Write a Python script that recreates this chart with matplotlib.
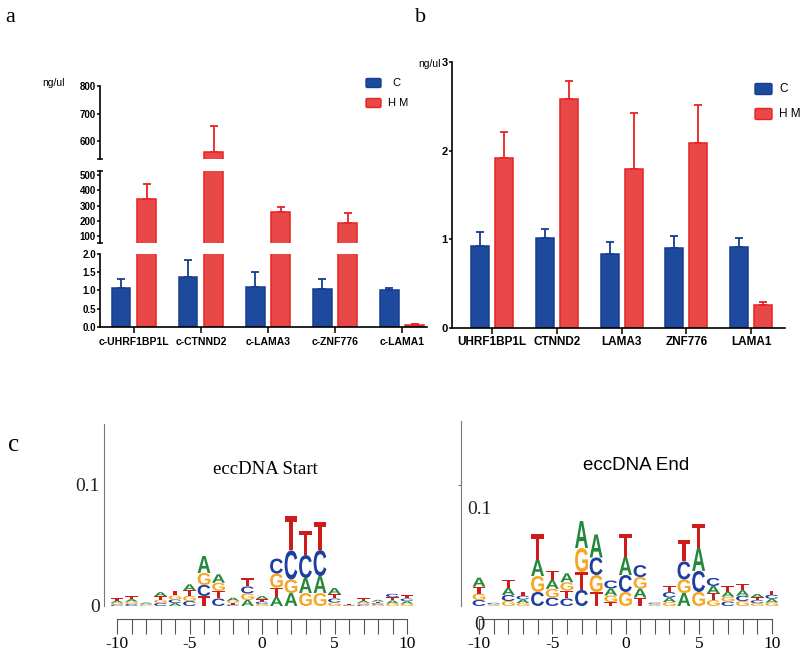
import numpy as np
import matplotlib
matplotlib.use('Agg')
import matplotlib.pyplot as plt
from matplotlib.textpath import TextPath
from matplotlib.patches import PathPatch, FancyBboxPatch
from matplotlib.font_manager import FontProperties
from matplotlib.transforms import Affine2D

# ---------------- data ----------------
genes_a = ['c-UHRF1BP1L', 'c-CTNND2', 'c-LAMA3', 'c-ZNF776', 'c-LAMA1']
a_C = [1.07, 1.37, 1.10, 1.05, 1.02]
a_C_err = [0.25, 0.47, 0.40, 0.27, 0.04]
a_HM = [345, 560, 260, 188, 0.05]
a_HM_err = [95, 95, 33, 62, 0.02]

genes_b = ['UHRF1BP1L', 'CTNND2', 'LAMA3', 'ZNF776', 'LAMA1']
b_C = [0.92, 1.02, 0.83, 0.90, 0.91]
b_C_err = [0.16, 0.10, 0.14, 0.14, 0.10]
b_HM = [1.92, 2.58, 1.79, 2.09, 0.26]
b_HM_err = [0.29, 0.21, 0.64, 0.42, 0.03]

positions = list(range(-10, 11))
LOGO_UNIT = 1e-3  # letter heights below are given in thousandths
start_A = [1.7, 2.1, 1.1, 3.3, 2.5, 5.0, 14.0, 7.0, 2.5, 5.0, 2.5, 7.4, 10.7, 12.4, 14.0, 5.0, 0.4, 1.7, 1.5, 2.5, 2.1]
start_C = [1.2, 1.7, 0.6, 2.5, 2.9, 4.1, 9.1, 6.2, 1.2, 5.8, 1.9, 12.4, 24.0, 19.0, 21.5, 3.3, 0.4, 1.2, 1.2, 2.9, 2.2]
start_G = [1.5, 1.9, 0.8, 2.7, 3.3, 4.3, 9.9, 6.6, 1.7, 5.4, 1.7, 11.6, 11.2, 10.7, 10.7, 2.9, 0.4, 1.5, 1.1, 2.1, 1.9]
start_T = [2.1, 2.5, 0.4, 2.9, 4.1, 4.5, 8.3, 6.4, 1.4, 6.6, 2.1, 7.8, 28.1, 19.8, 23.1, 3.7, 0.4, 2.1, 1.3, 2.6, 2.5]

end_A = [7.4, 0.5, 5.8, 2.9, 13.6, 7.4, 7.4, 22.3, 19.0, 5.8, 14.9, 7.4, 0.7, 3.7, 10.7, 19.0, 6.2, 4.1, 4.6, 2.6, 3.1]
end_C = [5.0, 1.0, 5.0, 3.1, 11.6, 7.0, 6.2, 13.2, 14.5, 6.6, 14.0, 9.9, 1.0, 4.5, 14.9, 17.4, 6.6, 3.7, 4.4, 2.5, 3.3]
end_G = [5.2, 0.7, 4.1, 2.5, 13.2, 7.2, 6.8, 19.8, 14.0, 5.4, 11.6, 9.5, 0.7, 3.3, 11.2, 11.6, 5.0, 4.0, 4.1, 2.3, 2.9]
end_T = [5.8, 0.4, 6.6, 3.3, 20.7, 7.6, 6.6, 14.9, 11.6, 3.3, 19.0, 7.0, 0.4, 5.0, 17.4, 19.8, 5.4, 4.5, 5.0, 2.5, 3.4]

# ---------------- style ----------------
BLUE, BLUE_E = '#1e4a9e', '#163d8f'
RED, RED_E = '#e84848', '#e82222'
LETTER_COL = {'A': '#23883a', 'C': '#1e3ea0', 'G': '#f5a623', 'T': '#cc1c1c'}
SANS = 'Liberation Sans'
SERIF = 'Liberation Serif'

W, H = 800, 657
fig = plt.figure(figsize=(W / 100, H / 100), dpi=100)


def fax(x0, y0, x1, y1):
    return fig.add_axes([x0 / W, 1 - y1 / H, (x1 - x0) / W, (y1 - y0) / H])


def draw_bars(ax, C, Cerr, HM, HMerr, off, w):
    x = np.arange(len(C))
    z = np.zeros(len(C))
    ax.bar(x - off, C, w, color=BLUE, edgecolor=BLUE_E, lw=1.1, zorder=2)
    ax.bar(x + off, HM, w, color=RED, edgecolor=RED_E, lw=1.1, zorder=2)
    ax.errorbar(x - off, C, yerr=[z, Cerr], fmt='none', ecolor=BLUE_E,
                elinewidth=1.3, capsize=3, capthick=1.3, zorder=1)
    ax.errorbar(x + off, HM, yerr=[z, HMerr], fmt='none', ecolor=RED_E,
                elinewidth=1.3, capsize=3, capthick=1.3, zorder=1)


def style_axis(ax, show_x):
    ax.spines['top'].set_visible(False)
    ax.spines['right'].set_visible(False)
    ax.spines['left'].set_linewidth(1.2)
    ax.spines['bottom'].set_linewidth(1.2)
    ax.patch.set_alpha(0)
    if not show_x:
        ax.spines['bottom'].set_visible(False)
        ax.set_xticks([])


# ---------------- panel a (broken axis) ----------------
xl_a = (-0.507, 4.373)
axT = fax(100, 86, 427, 159)
axM = fax(100, 171, 427, 243)
axB = fax(100, 254, 427, 327)
for ax, yl in [(axT, (535, 800)), (axM, (54, 527)), (axB, (0, 2))]:
    draw_bars(ax, a_C, a_C_err, a_HM, a_HM_err, 0.187, 0.27)
    ax.set_xlim(*xl_a)
    ax.set_ylim(*yl)
style_axis(axT, False)
style_axis(axM, False)
style_axis(axB, True)
axT.set_yticks([600, 700, 800])
axT.set_yticks([535], minor=True)
axM.set_yticks([100, 200, 300, 400, 500])
axM.set_yticks([54, 527], minor=True)
axB.set_yticks([0.0, 0.5, 1.0, 1.5, 2.0])
axB.set_yticklabels(['0.0', '0.5', '1.0', '1.5', '2.0'])
for ax in (axT, axM, axB):
    ax.tick_params(axis='y', which='major', direction='out', length=2.5, width=1.1, pad=0.5,
                   labelsize=7)
    ax.tick_params(axis='y', which='minor', direction='inout', length=4, width=1.1)
    for lab in ax.get_yticklabels():
        lab.set_fontfamily(SANS)
        lab.set_fontweight('bold')
axB.set_xticks(range(5))
axB.set_xticklabels(genes_a, fontfamily=SANS, fontweight='bold', fontsize=7.5)
axB.tick_params(axis='x', direction='out', length=4, width=1.1, pad=3)

fig.text(54 / W, 1 - 83 / H, 'ng/ul', fontfamily=SANS, fontsize=7.5, ha='center', va='center')

# legend a
for yc, fc, ec, lab, tx in [(83, BLUE, BLUE_E, 'C', 392), (103, RED, RED_E, 'H M', 388)]:
    fig.add_artist(FancyBboxPatch((366 / W, 1 - (yc + 4.5) / H), 15 / W, 9 / H,
                                  boxstyle='round,pad=0,rounding_size=0.002',
                                  transform=fig.transFigure, facecolor=fc, edgecolor=ec, lw=1))
    fig.text(tx / W, 1 - yc / H, lab, fontfamily=SANS, fontsize=8, ha='left', va='center')

# ---------------- panel b ----------------
axb = fax(452, 62, 785, 328)
draw_bars(axb, b_C, b_C_err, b_HM, b_HM_err, 0.185, 0.278)
axb.set_xlim(-0.62, 4.525)
axb.set_ylim(0, 3)
style_axis(axb, True)
axb.set_yticks([0, 1, 2, 3])
axb.tick_params(axis='y', direction='out', length=2.5, width=1.1, pad=0.5, labelsize=8)
for lab in axb.get_yticklabels():
    lab.set_fontfamily(SANS)
    lab.set_fontweight('bold')
axb.set_xticks(range(5))
axb.set_xticklabels(genes_b, fontfamily=SANS, fontweight='bold', fontsize=8.5)
axb.tick_params(axis='x', direction='out', length=4, width=1.1, pad=1.5)
fig.text(441 / W, 1 - 64 / H, 'ng/ul', fontfamily=SANS, fontsize=7.5, ha='right', va='center')

for yc, fc, ec, lab in [(89, BLUE, BLUE_E, 'C'), (114, RED, RED_E, 'H M')]:
    fig.add_artist(FancyBboxPatch((755 / W, 1 - (yc + 5.5) / H), 17 / W, 11 / H,
                                  boxstyle='round,pad=0,rounding_size=0.002',
                                  transform=fig.transFigure, facecolor=fc, edgecolor=ec, lw=1))
    fig.text(779 / W, 1 - yc / H, lab, fontfamily=SANS, fontsize=8.5, ha='left', va='center')

# ---------------- panel labels ----------------
fig.text(5 / W, 1 - 17 / H, 'a', fontfamily=SERIF, fontsize=16, ha='left', va='center')
fig.text(415 / W, 1 - 17 / H, 'b', fontfamily=SERIF, fontsize=16, ha='left', va='center')
fig.text(8 / W, 1 - 445 / H, 'c', fontfamily=SERIF, fontsize=18, ha='left', va='center')

# ---------------- panel c (sequence logos) ----------------
LFP = FontProperties(family=SANS, weight='bold')
_paths = {}
for ch in 'ACGT':
    tp = TextPath((0, 0), ch, size=1, prop=LFP)
    bb = tp.get_extents()
    _paths[ch] = (tp, bb)


def draw_logo(ax, A, C, G, T, width=0.88):
    for i, p in enumerate(positions):
        items = sorted([(A[i], 'A'), (C[i], 'C'), (G[i], 'G'), (T[i], 'T')], key=lambda t: t[0])
        y = 0.0
        for h, ch in items:
            h = h * LOGO_UNIT
            if h <= 0:
                continue
            tp, bb = _paths[ch]
            tr = (Affine2D().translate(-bb.x0, -bb.y0)
                  .scale(width / bb.width, h / bb.height)
                  .translate(p - width / 2, y))
            ax.add_patch(PathPatch(tr.transform_path(tp), facecolor=LETTER_COL[ch],
                                   edgecolor='none', lw=0))
            y += h


def logo_axes(x0, y0, x1, y1, xl, yl):
    ax = fax(x0, y0, x1, y1)
    ax.set_xlim(*xl)
    ax.set_ylim(*yl)
    for s in ('top', 'right', 'bottom'):
        ax.spines[s].set_visible(False)
    ax.spines['left'].set_color('#777777')
    ax.spines['left'].set_linewidth(0.8)
    ax.set_xticks([])
    ax.patch.set_alpha(0)
    return ax


def ruler(x0, x1, y):
    ax = fax(x0, y - 1, x1, y)
    ax.set_xlim(-10, 10)
    ax.set_ylim(0, 1)
    for s in ('top', 'left', 'right'):
        ax.spines[s].set_visible(False)
    ax.spines['bottom'].set_color('#555555')
    ax.spines['bottom'].set_linewidth(0.8)
    ax.set_yticks([])
    ax.set_xticks([-10, -5, 0, 5, 10])
    ax.set_xticklabels(['-10', '-5', '0', '5', '10'], fontfamily=SERIF, fontsize=12.5)
    ax.set_xticks(positions, minor=True)
    ax.tick_params(axis='x', which='both', direction='out', length=10.5, width=0.8,
                   color='#555555', pad=2)
    ax.patch.set_alpha(0)
    return ax


# left logo: eccDNA Start
axL = logo_axes(104, 424, 420, 606, (-10.9, 10.9), (0, 0.1504))
draw_logo(axL, start_A, start_C, start_G, start_T)
axL.set_yticks([0, 0.1])
axL.set_yticklabels(['0', '0.1'], fontfamily=SERIF, fontsize=14)
axL.tick_params(axis='y', length=0, pad=3, colors='#222222')
fig.text(265 / W, 1 - 470 / H, 'eccDNA Start', fontfamily=SERIF, fontsize=13.5,
         ha='center', va='center')
ruler(117, 407, 619)

# right logo: eccDNA End
axR = logo_axes(461, 421, 785, 606, (-11.23, 10.9), (0, 0.1529))
draw_logo(axR, end_A, end_C, end_G, end_T)
axR.set_yticks([0.1])
axR.set_yticklabels([''])
axR.tick_params(axis='y', direction='out', length=2.5, width=0.8, color='#777777')
fig.text(467 / W, 1 - 510 / H, '0.1', fontfamily=SERIF, fontsize=14, ha='left',
         va='center', color='#222222')
fig.text(479 / W, 1 - 626 / H, '0', fontfamily=SERIF, fontsize=15, ha='center',
         va='center', color='#222222')
fig.text(636 / W, 1 - 465 / H, 'eccDNA End', fontfamily=SANS,
         fontsize=13.5, ha='center', va='center')
ruler(479, 772, 619)

fig.savefig('out.png', dpi=100)
